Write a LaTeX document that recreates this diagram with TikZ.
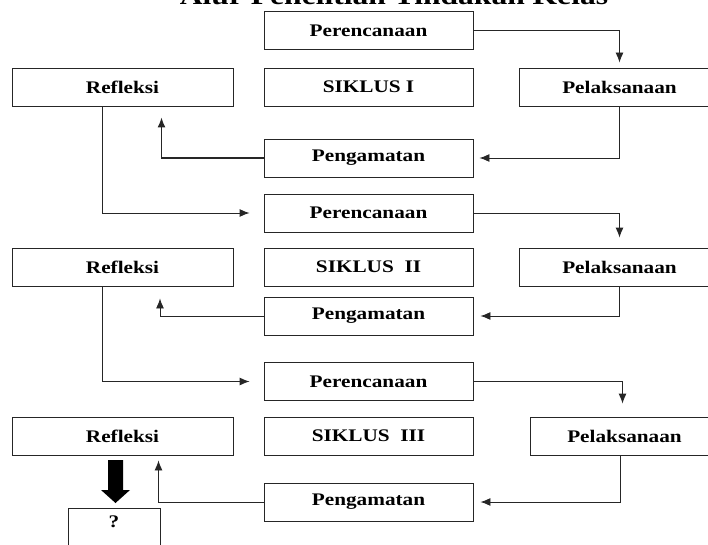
\documentclass[tikz,border=0pt]{standalone}
\usepackage{fontspec}
\setmainfont{Liberation Serif}
\newfontfamily\boxfont[FakeStretch=1.2]{Liberation Serif}
\usetikzlibrary{arrows.meta,positioning}

\begin{document}
\begin{tikzpicture}[x=1pt,y=-1pt,>={Latex[length=10pt,width=8pt]}]
\tikzstyle{box}=[draw=black!85,line width=0.9pt,inner sep=2pt,
minimum height=38pt,font=\boxfont\bfseries\fontsize{17.7}{20}\selectfont]
\tikzstyle{mid}=[box,minimum width=209pt]
\tikzstyle{lft}=[box,minimum width=221pt]
\tikzstyle{rgt}=[box,minimum width=201pt]
\tikzstyle{link}=[->,line width=0.9pt,draw=black!85]

\useasboundingbox (0,0) rectangle (708,545);
\clip (0,0) rectangle (708,545);

\node[font=\boxfont\bfseries\fontsize{26.3}{30}\selectfont,anchor=base] (title) at (394,5) {Alur Penelitian Tindakan Kelas};

% siklus I
\node[mid] (per1) at (368.5,30.5) {Perencanaan};
\node[lft] (ref1) at (122.5,87) {Refleksi};
\node[mid] (sik1) at (368.5,87) {SIKLUS I};
\node[rgt] (pel1) at (619.5,87) {Pelaksanaan};
\node[mid] (pen1) at (368.5,158) {Pengamatan};
% siklus II
\node[mid] (per2) at (368.5,213) {Perencanaan};
\node[lft] (ref2) at (122.5,267) {Refleksi};
\node[mid] (sik2) at (368.5,267) {SIKLUS\ \ II};
\node[rgt] (pel2) at (619.5,267) {Pelaksanaan};
\node[mid] (pen2) at (368.5,316) {Pengamatan};
% siklus III
\node[mid] (per3) at (368.5,381.5) {Perencanaan};
\node[lft] (ref3) at (122.5,436) {Refleksi};
\node[mid] (sik3) at (368.5,436) {SIKLUS\ \ III};
\node[rgt,minimum width=189pt] (pel3) at (624.5,436) {Pelaksanaan};
\node[mid] (pen3) at (368.5,502) {Pengamatan};
\node[box,minimum width=92pt,minimum height=40pt,text depth=12pt] (ask) at (114,528) {?};

\draw[link,shorten >=5pt] (per1.east) -| (pel1.north);
\draw[link,shorten >=6pt] (pel1.south) |- (pen1.east);
\draw[link,line width=1.4pt,shorten >=11pt] (pen1.west) -| ([xshift=39pt]ref1.south);
\draw[link,shorten >=14pt] ([xshift=-20pt]ref1.south) |- (per2.west);

\draw[link,shorten >=10pt] (per2.east) -| (pel2.north);
\draw[link,shorten >=7pt] (pel2.south) |- (pen2.east);
\draw[link,shorten >=12pt] (pen2.west) -| ([xshift=37.5pt]ref2.south);
\draw[link,shorten >=14pt] ([xshift=-20pt]ref2.south) |- (per3.west);

\draw[link,shorten >=13pt] (per3.east) -| ([xshift=-2pt]pel3.north);
\draw[link,shorten >=7pt] ([xshift=-4pt]pel3.south) |- (pen3.east);
\draw[link,shorten >=5pt] (pen3.west) -| ([xshift=36pt]ref3.south);

% panah tebal ke kotak tanya
\fill[black] (108,460) -- (123,460) -- (123,490) -- (130,490) -- (115.5,503)
  -- (101,490) -- (108,490) -- cycle;

\end{tikzpicture}
\end{document}
